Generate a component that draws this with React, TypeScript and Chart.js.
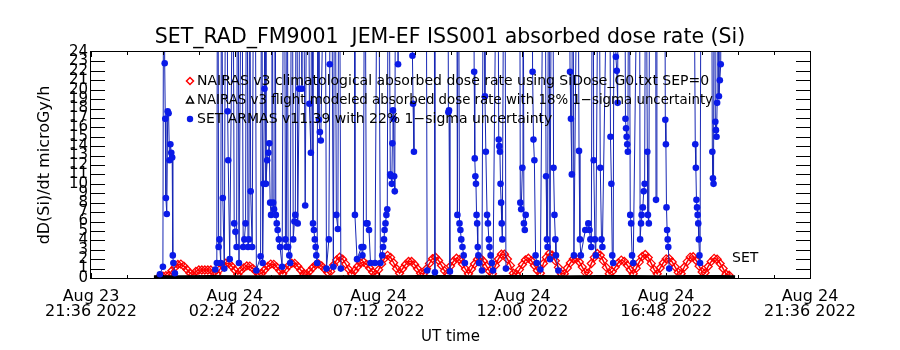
import React, { useEffect, useRef } from 'react';
import { Chart, registerables } from 'chart.js';

Chart.register(...registerables);

const FONT = '"DejaVu Sans", "Liberation Sans", sans-serif';

const titleText = 'SET_RAD_FM9001  JEM-EF ISS001 absorbed dose rate (Si)';
const yAxisTitle = 'dD(Si)/dt microGy/h';
const xAxisTitle = 'UT time';
const endLabel = 'SET';

// x axis: hours after Aug 23 21:36 UT
const xMinHour = 0;
const xMaxHour = 24;
const xTickHours = [0, 4.8, 9.6, 14.4, 19.2, 24];
const xTickLabels = [
  ['Aug 23', '21:36 2022'],
  ['Aug 24', '02:24 2022'],
  ['Aug 24', '07:12 2022'],
  ['Aug 24', '12:00 2022'],
  ['Aug 24', '16:48 2022'],
  ['Aug 24', '21:36 2022'],
];
const xMinorStepHours = 1.2;

const yMin = 0;
const yMax = 24;

const legendLabels = [
  'NAIRAS v3 climatological absorbed dose rate using SiDose_G0.txt SEP=0',
  'NAIRAS v3 flight modeled absorbed dose rate with 18% 1\u2212sigma uncertainty',
  'SET ARMAS v11.39 with 22% 1\u2212sigma uncertainty',
];

// NAIRAS climatological model, sampled every 0.1 h from 2.3 h
const nairasClimStartHour = 2.3;
const nairasClimStepHours = 0.1;
const nairasClimDose = [
  0.2, 0.2, 0.25, 0.3, 0.77, 1.13, 1.43, 1.48, 1.26, 0.91,
  0.54, 0.35, 0.7, 0.85, 0.85, 0.85, 0.85, 0.85, 0.6, 0.45,
  0.92, 1.31, 1.57, 1.55, 1.24, 0.85, 0.4, 0.78, 1.08, 1.28,
  1.26, 1.02, 0.72, 0.4, 0.5, 0.88, 1.24, 1.48, 1.45, 1.16,
  0.8, 0.45, 0.92, 1.31, 1.57, 1.55, 1.24, 0.85, 0.45, 0.4,
  0.73, 1.09, 1.4, 1.5, 1.28, 0.95, 0.59, 0.7, 1.38, 1.92,
  2.2, 2.0, 1.5, 0.93, 0.45, 0.8, 1.22, 1.59, 1.7, 1.45,
  1.06, 0.64, 0.4, 0.87, 1.5, 2.08, 2.4, 2.19, 1.62, 0.99,
  0.5, 0.98, 1.43, 1.76, 1.76, 1.43, 0.98, 0.5, 0.45, 0.98,
  1.55, 2.05, 2.2, 1.86, 1.33, 0.76, 0.5, 1.27, 1.78, 2.1,
  1.96, 1.49, 0.95, 0.45, 0.95, 1.49, 1.96, 2.1, 1.78, 1.27,
  0.73, 0.45, 1.34, 2.02, 2.53, 2.53, 2.02, 1.34, 0.5, 0.4,
  0.89, 1.43, 1.92, 2.1, 1.83, 1.33, 0.79, 0.5, 1.54, 2.19,
  2.6, 2.42, 1.82, 1.13, 0.45, 0.45, 1.06, 1.6, 2.03, 2.06,
  1.7, 1.16, 0.6, 0.55, 1.54, 2.19, 2.6, 2.42, 1.82, 1.13,
  0.45, 0.68, 1.16, 1.61, 1.9, 1.77, 1.36, 0.88, 0.45, 1.03,
  1.69, 2.28, 2.5, 2.17, 1.55, 0.89, 0.45, 1.06, 1.6, 2.03,
  2.06, 1.7, 1.16, 0.6, 0.45, 1.14, 1.74, 2.22, 2.26, 1.86,
  1.26, 0.64, 0.55, 1.22, 1.74, 2.08, 1.99, 1.54, 1.0, 0.4,
  0.3,
];

// NAIRAS flight-modeled dose rate [hour, dose]
const nairasFlight: [number, number][] = [
  [2.1, 0.14], [3.0, 0.12], [4.0, 0.15], [5.0, 0.13], [6.0, 0.14],
  [7.0, 0.16], [8.0, 0.13], [9.0, 0.15], [10.0, 0.14], [11.0, 0.16],
  [12.0, 0.15], [13.0, 0.13], [14.0, 0.16], [15.0, 0.15], [16.0, 0.14],
  [17.0, 0.16], [18.0, 0.15], [19.0, 0.14], [20.0, 0.16], [21.0, 0.15],
  [21.5, 0.14],
];

// SET ARMAS measured dose rate [hour, dose]; null = data gap
const armasPoints: [number, number | null][] = [
  [2.30, 0.4], [2.40, 1.2], [2.43, 48], [2.46, 22.8], [2.48, 16.9], [2.50, 8.5], [2.53, 6.8],
  [2.56, 17.7], [2.59, 17.5], [2.62, 12.5], [2.65, 14.2], [2.68, 13.3], [2.71, 12.8],
  [2.73, 2.4], [2.75, 1.6], [2.80, 0.5], [3.2, null],
  [4.15, 0.9], [4.20, 1.6], [4.23, 55], [4.26, 3.3], [4.29, 4.1], [4.33, 1.6], [4.36, 42],
  [4.40, 8.5], [4.45, 1.0], [4.52, 60], [4.56, 17.7], [4.58, 12.5], [4.63, 2.0], [4.74, 38],
  [4.78, 5.8], [4.82, 4.9], [4.86, 3.3], [4.90, 50], [4.94, 1.6],
  [5.03, 45], [5.08, 3.3], [5.12, 4.1], [5.16, 5.8], [5.20, 52], [5.24, 3.3], [5.27, 4.1],
  [5.30, 40], [5.33, 9.2], [5.38, 3.3], [5.46, 58], [5.52, 0.8], [5.66, 2.3], [5.70, 44],
  [5.73, 1.6], [5.76, 10.0], [5.79, 20.1], [5.81, 60], [5.84, 10.0], [5.88, 12.5],
  [5.92, 13.3], [5.95, 14.3], [5.98, 8.0], [6.01, 6.7],
  [6.04, 47], [6.08, 8.0], [6.11, 7.3], [6.14, 52], [6.17, 6.7], [6.20, 5.8], [6.23, 5.1],
  [6.27, 4.1], [6.31, 3.3], [6.38, 1.2], [6.45, 56], [6.49, 4.1], [6.52, 3.3], [6.55, 41],
  [6.58, 3.3], [6.62, 2.4], [6.65, 1.6],
  [6.71, 53], [6.75, 4.1], [6.79, 6.0], [6.82, 6.7], [6.86, 49], [6.90, 5.8], [6.95, 20.1],
  [6.98, 57], [7.04, 20.1], [7.08, 44], [7.15, 7.7], [7.23, 51], [7.29, 18.5], [7.34, 13.3],
  [7.38, 46], [7.41, 5.8], [7.44, 5.1], [7.47, 4.1], [7.50, 3.3], [7.52, 2.4], [7.55, 1.6],
  [7.58, 55], [7.61, 16.8], [7.64, 15.5], [7.67, 14.6],
  [7.81, 43], [7.86, 1.0], [7.94, 4.1], [7.97, 22.7], [8.00, 58], [8.09, 1.2], [8.14, 48],
  [8.19, 6.7], [8.24, 5.2], [8.28, 50], [8.34, 1.0], [8.5, null],
  [8.78, 54], [8.81, 6.7], [8.88, 2.0], [9.03, 3.3], [9.06, 2.4], [9.09, 3.3], [9.14, 46],
  [9.19, 5.8], [9.23, 5.8], [9.28, 5.1], [9.33, 1.6], [9.48, 1.6], [9.58, 52], [9.66, 1.6],
  [9.72, 2.4], [9.75, 3.3], [9.78, 4.1], [9.80, 5.1], [9.83, 5.8], [9.86, 6.7], [9.89, 7.3],
  [9.93, 49], [9.99, 11.0], [10.02, 10.8], [10.04, 10.0], [10.06, 14.3], [10.08, 17.8],
  [10.10, 16.9], [10.12, 10.8], [10.14, 9.2], [10.18, 55], [10.25, 22.7], [10.30, 44],
  [10.5, null],
  [10.70, 56], [10.73, 23.6], [10.75, 18.5], [10.78, 13.4], [10.9, null],
  [11.18, 50], [11.22, 0.8], [11.3, null],
  [11.45, 45], [11.48, 0.6], [11.6, null],
  [11.90, 58], [11.93, 17.6], [11.95, 17.8], [11.98, 0.7], [12.1, null],
  [12.20, 54], [12.23, 6.7], [12.26, 47], [12.30, 5.8], [12.33, 5.1], [12.36, 4.1],
  [12.40, 3.3], [12.44, 2.4], [12.48, 1.6], [12.6, null],
  [12.76, 52], [12.79, 21.9], [12.81, 12.7], [12.83, 10.8], [12.85, 10.0], [12.87, 6.7],
  [12.89, 5.8], [12.91, 3.3], [12.93, 2.4], [12.95, 1.6], [13.05, 0.8], [13.12, 55],
  [13.15, 19.3], [13.18, 13.4], [13.22, 6.7], [13.25, 5.8], [13.28, 4.1], [13.30, 3.3],
  [13.34, 2.4], [13.38, 1.6], [13.42, 0.8],
  [13.57, 50], [13.61, 14.7], [13.63, 14.0], [13.65, 13.4], [13.67, 10.0], [13.69, 8.0],
  [13.71, 5.8], [13.73, 4.1], [13.80, 53], [13.85, 1.0], [14.0, null],
  [14.30, 57], [14.33, 8.0], [14.36, 7.3], [14.40, 11.7], [14.42, 48], [14.45, 5.8],
  [14.48, 5.1], [14.51, 6.7], [14.6, null],
  [14.71, 51], [14.74, 21.9], [14.77, 14.7], [14.80, 12.5], [14.84, 2.4], [14.88, 1.6],
  [15.00, 0.9], [15.14, 56], [15.19, 10.8], [15.22, 4.1], [15.24, 3.3], [15.28, 46],
  [15.32, 2.0], [15.40, 58], [15.44, 11.7], [15.47, 6.7], [15.50, 4.1], [15.52, 2.4],
  [15.60, 0.8], [15.8, null],
  [15.95, 49], [15.99, 21.9], [16.02, 16.9], [16.05, 11.0], [16.08, 52], [16.12, 2.4],
  [16.25, 45], [16.29, 13.5], [16.32, 4.1], [16.35, 2.4], [16.50, 5.1], [16.60, 5.8],
  [16.64, 5.1], [16.67, 4.1], [16.70, 3.3], [16.75, 54], [16.78, 12.5], [16.82, 4.1],
  [16.85, 2.4], [16.95, 47], [17.00, 11.7], [17.04, 4.1], [17.07, 3.3],
  [17.30, 50], [17.34, 15.0], [17.37, 10.0], [17.40, 2.4], [17.43, 1.6], [17.48, 59],
  [17.52, 23.5], [17.55, 22.0], [17.58, 18.6], [17.60, 44],
  [17.80, 57], [17.84, 16.9], [17.86, 15.9], [17.88, 15.0], [17.90, 14.2], [17.92, 13.4],
  [17.96, 49], [18.00, 6.7], [18.03, 5.8], [18.06, 2.4], [18.10, 1.6],
  [18.30, 53], [18.33, 4.1], [18.36, 5.8], [18.38, 6.7], [18.42, 7.5], [18.45, 9.2],
  [18.48, 10.0], [18.52, 46], [18.57, 13.4], [18.59, 6.7], [18.62, 5.8], [18.66, 51],
  [18.75, null],
  [18.84, 55], [18.86, 8.3], [18.89, 42], [19.0, null],
  [19.14, 58], [19.17, 16.8], [19.19, 14.2], [19.21, 7.5], [19.23, 5.1], [19.25, 4.1],
  [19.27, 3.3], [19.30, 1.0], [19.6, null],
  [20.10, 52], [20.17, 14.2], [20.19, 11.7], [20.21, 8.3], [20.23, 7.5], [20.25, 6.7],
  [20.27, 5.8], [20.29, 4.1], [20.31, 2.4], [20.33, 1.6], [20.37, 47], [20.5, null],
  [20.70, 55], [20.74, 13.4], [20.76, 10.6], [20.78, 10.0], [20.81, 48], [20.84, 16.6],
  [20.86, 15.7], [20.88, 15.0], [20.90, 18.6], [20.93, 56], [20.96, 19.3], [20.99, 21.0],
  [21.02, 22.7], [21.05, 60],
];

const RED = '#ff0000';
const BLUE_LINE = '#1626b4';
const BLUE_POINT = '#0a1ae8';

const idlFramePlugin = {
  id: 'idlFrame',
  afterDatasetsDraw(chart: any) {
    const { ctx, chartArea, scales } = chart;
    const { left, right, top, bottom } = chartArea;
    const xs = scales.x;
    const ys = scales.y;
    ctx.save();

    // legend inside the plot
    ctx.font = `14px ${FONT}`;
    ctx.textBaseline = 'middle';
    ctx.textAlign = 'left';
    const lx = left + 99;
    const rows = [top + 29, top + 48, top + 67];
    ctx.strokeStyle = RED;
    ctx.lineWidth = 1.5;
    ctx.beginPath();
    ctx.moveTo(lx, rows[0] - 3.5);
    ctx.lineTo(lx + 3.5, rows[0]);
    ctx.lineTo(lx, rows[0] + 3.5);
    ctx.lineTo(lx - 3.5, rows[0]);
    ctx.closePath();
    ctx.stroke();
    ctx.strokeStyle = '#000';
    ctx.beginPath();
    ctx.moveTo(lx, rows[1] - 3.5);
    ctx.lineTo(lx + 3.5, rows[1] + 3);
    ctx.lineTo(lx - 3.5, rows[1] + 3);
    ctx.closePath();
    ctx.stroke();
    ctx.fillStyle = BLUE_POINT;
    ctx.beginPath();
    ctx.arc(lx, rows[2], 3.2, 0, Math.PI * 2);
    ctx.fill();
    ctx.fillStyle = '#000';
    legendLabels.forEach((t, i) => ctx.fillText(t, lx + 7, rows[i] + 0.5, 516));

    // end label
    ctx.font = `14px ${FONT}`;
    ctx.fillText(endLabel, xs.getPixelForValue(21.4), ys.getPixelForValue(2.1));

    // frame
    ctx.strokeStyle = '#000';
    ctx.lineWidth = 1;
    ctx.strokeRect(left - 0.5, top - 0.5, right - left + 1, bottom - top + 1);

    // inward ticks
    ctx.beginPath();
    for (let v = yMin + 1; v < yMax; v++) {
      const py = Math.round(ys.getPixelForValue(v)) + 0.5;
      ctx.moveTo(left, py);
      ctx.lineTo(left + 14, py);
      ctx.moveTo(right, py);
      ctx.lineTo(right - 14, py);
    }
    const nMinor = Math.round((xMaxHour - xMinHour) / xMinorStepHours);
    for (let k = 0; k <= nMinor; k++) {
      const h = xMinHour + k * xMinorStepHours;
      const px = Math.round(xs.getPixelForValue(h)) + 0.5;
      const len = k % 4 === 0 ? 5 : 3;
      ctx.moveTo(px, bottom);
      ctx.lineTo(px, bottom - len);
      ctx.moveTo(px, top);
      ctx.lineTo(px, top + len);
    }
    ctx.stroke();
    ctx.restore();
  },
};

export default function App() {
  const canvasRef = useRef<HTMLCanvasElement | null>(null);

  useEffect(() => {
    const canvas = canvasRef.current;
    if (!canvas) return;
    const chart = new Chart(canvas, {
      type: 'line',
      data: {
        datasets: [
          {
            label: legendLabels[2],
            data: armasPoints.map(([h, v]) => ({ x: h, y: v })),
            borderColor: BLUE_LINE,
            borderWidth: 1,
            pointRadius: 3.3,
            pointBackgroundColor: BLUE_POINT,
            pointBorderColor: BLUE_POINT,
            pointBorderWidth: 0,
            spanGaps: false,
            yAxisID: 'y',
            order: 0,
          } as any,
          {
            label: legendLabels[1],
            data: nairasFlight.map(([h, v]) => ({ x: h, y: v })),
            borderColor: '#000',
            borderWidth: 3,
            pointRadius: 0,
            yAxisID: 'y',
            order: 1,
          } as any,
          {
            label: legendLabels[0],
            data: nairasClimDose.map((v, i) => ({
              x: nairasClimStartHour + i * nairasClimStepHours,
              y: v,
            })),
            borderColor: RED,
            borderWidth: 1.5,
            pointStyle: 'rectRot',
            pointRadius: 4,
            pointBorderColor: RED,
            pointBackgroundColor: 'rgba(255,255,255,0)',
            pointBorderWidth: 1.3,
            yAxisID: 'y',
            order: 2,
          } as any,
        ],
      },
      options: {
        responsive: false,
        devicePixelRatio: 1,
        animation: false,
        layout: { padding: 0 },
        plugins: {
          legend: { display: false },
          tooltip: { enabled: false },
          title: {
            display: true,
            text: titleText,
            color: '#000',
            font: { family: FONT, size: 20.5, weight: 'normal', lineHeight: 1.2 },
            padding: { top: 25, bottom: 2.4 },
          },
        },
        scales: {
          x: {
            type: 'linear',
            min: xMinHour,
            max: xMaxHour,
            afterBuildTicks: (s: any) => {
              s.ticks = xTickHours.map((v) => ({ value: v }));
            },
            afterFit: (s: any) => {
              s.height = 72;
            },
            grid: { display: false, drawTicks: false },
            border: { display: false },
            ticks: {
              autoSkip: false,
              maxRotation: 0,
              minRotation: 0,
              padding: 12,
              color: '#000',
              font: { family: FONT, size: 16, lineHeight: 0.9 },
              callback: (v: any) => {
                const i = xTickHours.findIndex((h) => Math.abs(h - Number(v)) < 1e-6);
                return i >= 0 ? xTickLabels[i] : '';
              },
            },
            title: {
              display: true,
              text: xAxisTitle,
              color: '#000',
              font: { family: FONT, size: 15, lineHeight: 1.2 },
              padding: { top: 0, bottom: 4 },
            },
          },
          y: {
            type: 'linear',
            position: 'left',
            min: yMin,
            max: yMax,
            afterFit: (s: any) => {
              s.width = 91;
            },
            grid: { display: false, drawTicks: false },
            border: { display: false },
            ticks: {
              stepSize: 1,
              autoSkip: false,
              padding: 3,
              color: '#000',
              font: { family: FONT, size: 15 },
            },
            title: {
              display: true,
              text: yAxisTitle,
              color: '#000',
              font: { family: FONT, size: 16, lineHeight: 1.2 },
              padding: { top: 35, bottom: 0 },
            },
          },
          yRight: {
            type: 'linear',
            position: 'right',
            min: yMin,
            max: yMax,
            afterFit: (s: any) => {
              s.width = 90;
            },
            grid: { display: false, drawTicks: false },
            border: { display: false },
            ticks: { display: false },
          },
        },
      } as any,
      plugins: [idlFramePlugin],
    });
    return () => chart.destroy();
  }, []);

  return (
    <canvas
      ref={canvasRef}
      width={900}
      height={350}
      style={{ position: 'fixed', left: 0, top: 0, background: '#fff' }}
    />
  );
}
